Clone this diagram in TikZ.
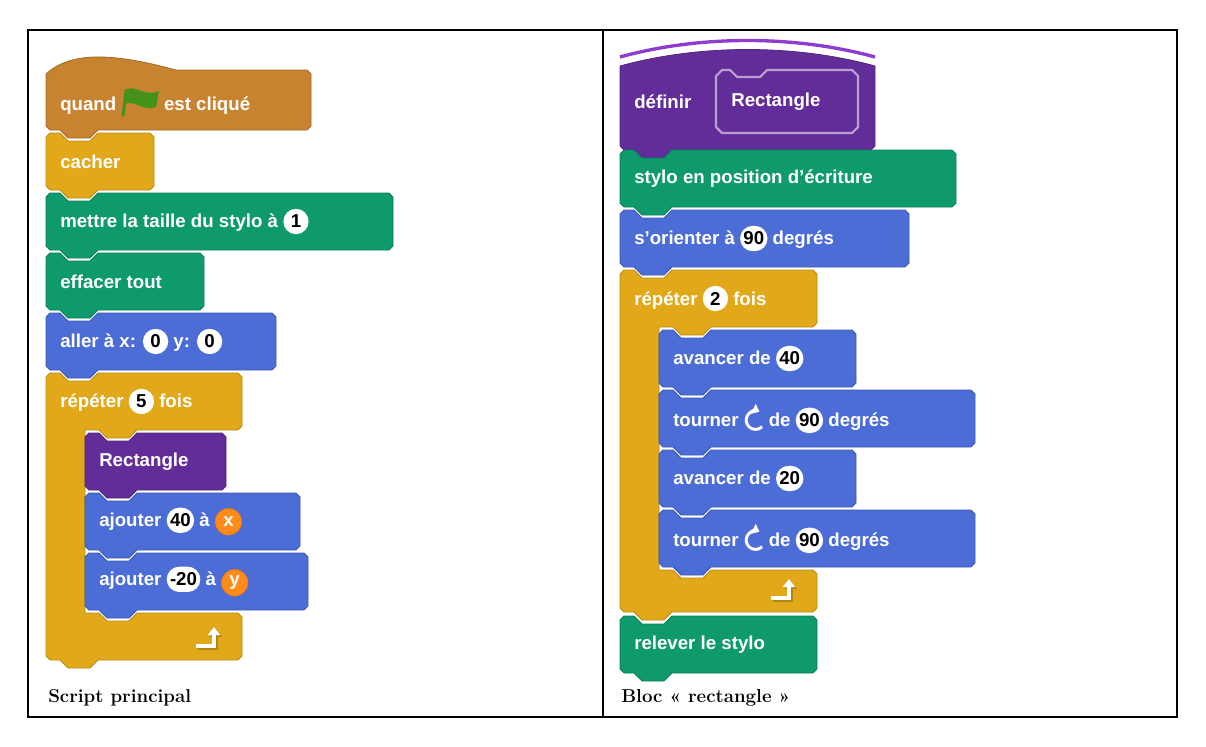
\documentclass[tikz,border=0pt]{standalone}
\usepackage{fontspec}
\setsansfont{Liberation Sans}
\usetikzlibrary{arrows.meta}
\definecolor{hatc}{HTML}{C88330}
\definecolor{yel}{HTML}{E1A91A}
\definecolor{pen}{HTML}{0E9A6C}
\definecolor{mot}{HTML}{4C6CD6}
\definecolor{cus}{HTML}{632D99}
\definecolor{cusl}{HTML}{8E3CD0}
\definecolor{varc}{HTML}{FF8C1A}
\definecolor{flagc}{HTML}{45921B}
\tikzset{
  blk/.style={fill=#1,draw=#1!82!black,line width=0.6pt,line join=round},
  btxt/.style={anchor=west,text=white,font=\sffamily\bfseries\fontsize{14}{16}\selectfont,inner sep=0pt},
  captxt/.style={anchor=west,font=\bfseries\fontsize{14}{16}\selectfont,inner sep=0pt},
}
\newcommand\nb[1]{\tikz[baseline=(n.base)]\node[fill=white,rounded corners=9.5pt,minimum height=19pt,minimum width=19pt,inner xsep=2.5pt,inner ysep=0pt,text=black](n){#1};}
\newcommand\vr[1]{\tikz[baseline=(n.base)]\node[circle,fill=varc,draw=varc!85!black,minimum size=20pt,inner sep=0pt,text=white](n){#1};}
\newcommand\flg{\tikz[baseline=-6pt]{\draw[flagc,line width=2.2pt](0,-10pt)--(2.5pt,10pt);
 \fill[flagc](2pt,10pt) .. controls (10pt,14pt) and (16pt,4pt) .. (27pt,9pt) -- (25pt,-3pt) .. controls (15pt,-7pt) and (9pt,3pt) .. (0.6pt,-1pt) -- cycle;}}
\newcommand\turn{\tikz[baseline=-5pt]{\draw[white,line width=2.2pt,-{Triangle[length=5pt,width=8pt]}] (-45:7pt) arc[start angle=-45,end angle=-295,radius=7pt];}}
% stack block: name x y w h color text
\newcommand\stk[7]{%
 \path[blk=#6] ({#2},{#3+4})--({#2+4},{#3})--({#2+14},{#3})--({#2+22},{#3+8})--({#2+44},{#3+8})--({#2+52},{#3})
 --({#2+#4-4},{#3})--({#2+#4},{#3+4})--({#2+#4},{#3+#5-4})--({#2+#4-4},{#3+#5})--({#2+52},{#3+#5})--({#2+44},{#3+#5+8})
 --({#2+22},{#3+#5+8})--({#2+14},{#3+#5})--({#2+4},{#3+#5})--({#2},{#3+#5-4})--cycle;
 \node[btxt] (#1) at ({#2+14},{#3+#5/2}) {#7};}
% C block: name x y w h yb hb color text  (arm 39)
\newcommand\cblk[9]{%
 \path[blk=#8] ({#2},{#3+4})--({#2+4},{#3})--({#2+14},{#3})--({#2+22},{#3+8})--({#2+44},{#3+8})--({#2+52},{#3})
 --({#2+#4-4},{#3})--({#2+#4},{#3+4})--({#2+#4},{#3+#5-4})--({#2+#4-4},{#3+#5})
 --({#2+91},{#3+#5})--({#2+83},{#3+#5+8})--({#2+61},{#3+#5+8})--({#2+53},{#3+#5})--({#2+39},{#3+#5})
 --({#2+39},{#6})--({#2+53},{#6})--({#2+61},{#6+8})--({#2+83},{#6+8})--({#2+91},{#6})
 --({#2+#4-4},{#6})--({#2+#4},{#6+4})--({#2+#4},{#6+#7-4})--({#2+#4-4},{#6+#7})
 --({#2+52},{#6+#7})--({#2+44},{#6+#7+8})--({#2+22},{#6+#7+8})--({#2+14},{#6+#7})--({#2+4},{#6+#7})--({#2},{#6+#7-4})--cycle;
 \node[btxt] (#1) at ({#2+14},{#3+#5/2}) {#9};
 \draw[yel!80!black,line width=2.6pt,-{Triangle[length=6pt,width=9pt]}] ({#2+#4-44},{#6+#7-12})--({#2+#4-26},{#6+#7-12})--({#2+#4-26},{#6+#7-31});
 \draw[white,line width=2.6pt,-{Triangle[length=6pt,width=9pt]}] ({#2+#4-46},{#6+#7-14})--({#2+#4-28},{#6+#7-14})--({#2+#4-28},{#6+#7-33});}
\begin{document}
\begin{tikzpicture}[x=0.75pt,y=-0.75pt]
\useasboundingbox (0,0) rectangle (1206,746);
\draw[line width=1.5pt] (28,30) rectangle (1177,717);
\draw[line width=1.5pt] (603,30) -- (603,717);
% left hat
\path[blk=hatc] (46,74) .. controls (70,52) and (110,52) .. (176,70) --(307,70)--(311,74)--(311,126)--(307,130)--(98,130)--(90,138)--(68,138)--(60,130)--(50,130)--(46,126)--cycle;
\node[btxt] (q) at (60,101) {quand \flg\ est cliqué};
\stk{b1}{46}{133}{108}{57}{yel}{cacher}
\stk{b2}{46}{193}{347}{57}{pen}{mettre la taille du stylo à \nb{1}}
\stk{b3}{46}{253}{158}{57}{pen}{effacer tout}
\stk{b4}{46}{313}{230}{57}{mot}{aller à x: \nb{0} y: \nb{0}}
\cblk{r1}{46}{373}{196}{57}{613}{47}{yel}{répéter \nb{5} fois}
\stk{b5}{85}{433}{141}{57}{cus}{Rectangle}
\stk{b6}{85}{493}{215}{57}{mot}{ajouter \nb{40} à \vr{x}}
\stk{b7}{85}{553}{223}{57}{mot}{ajouter \nb{-20} à \vr{y}}
% right hat
\path[blk=cus] (620,66) .. controls (700,44) and (795,44) .. (875,66) --(875,146)--(871,150)--(672,150)--(664,158)--(642,158)--(634,150)--(624,150)--(620,146)--cycle;
\draw[cusl,line width=2.5pt] (620,57) .. controls (700,35) and (795,35) .. (875,57);
\path[fill=cus,draw=cus!45!white,line width=1.6pt,line join=round] (716,76)--(722,70)--(730,70)--(737,77)--(760,77)--(767,70)--(852,70)--(858,76)--(858,127)--(852,133)--(722,133)--(716,127)--cycle;
\node[btxt] (d) at (634,102) {définir};
\node[btxt] (dr) at (731,102) {Rectangle};
\stk{c1}{620}{150}{336}{57}{pen}{stylo en position d’écriture}
\stk{c2}{620}{210}{289}{57}{mot}{s’orienter à \nb{90} degrés}
\cblk{r2}{620}{270}{197}{57}{570}{42}{yel}{répéter \nb{2} fois}
\stk{c3}{659}{330}{197}{57}{mot}{avancer de \nb{40}}
\stk{c4}{659}{390}{316}{57}{mot}{tourner \turn\ de \nb{90} degrés}
\stk{c5}{659}{450}{197}{57}{mot}{avancer de \nb{20}}
\stk{c6}{659}{510}{316}{57}{mot}{tourner \turn\ de \nb{90} degrés}
\stk{c7}{620}{616}{197}{57}{pen}{relever le stylo}
\node[captxt] (cl) at (48,698) {Script principal};
\node[captxt] (cr) at (621,698) {Bloc « rectangle »};
\end{tikzpicture}
\end{document}
